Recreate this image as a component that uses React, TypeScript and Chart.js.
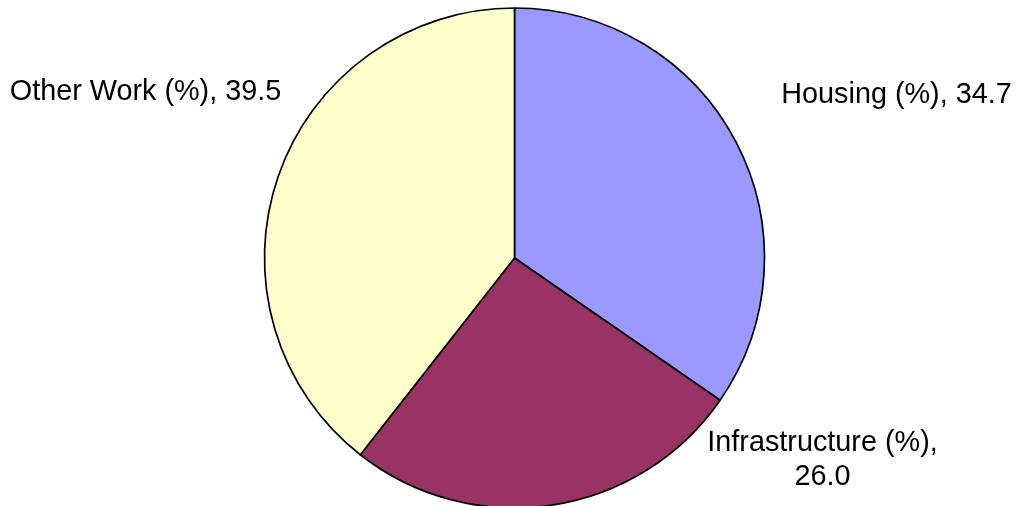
import React, { useEffect, useRef } from "react";
import { Chart, registerables } from "chart.js";

Chart.register(...registerables);

const categories = ["Housing (%)", "Infrastructure (%)", "Other Work (%)"];
const values = [34.7, 26.0, 39.5];
const valueLabels = ["34.7", "26.0", "39.5"];
const colors = ["#9999FF", "#993366", "#FFFFCC"];

// label placement relative to pie center (px offsets), text lines
const labelLines = [
  [`${categories[0]}, ${valueLabels[0]}`],
  [`${categories[1]},`, valueLabels[1]],
  [`${categories[2]}, ${valueLabels[2]}`],
];
const labelOffsetX = [382, 308, -369];
const labelOffsetY = [-155.5, 193, -158];

const labelPlugin = {
  id: "pieLabels",
  afterDatasetsDraw(chart: any) {
    const meta = chart.getDatasetMeta(0);
    const arc = meta.data[0];
    if (!arc) return;
    const cx = arc.x;
    const cy = arc.y;
    const ctx = chart.ctx;
    ctx.save();
    ctx.fillStyle = "#000";
    ctx.font = '28.8px "Liberation Sans", Arial, sans-serif';
    ctx.textAlign = "center";
    ctx.textBaseline = "alphabetic";
    labelLines.forEach((lines, i) => {
      lines.forEach((t, j) => {
        ctx.fillText(t, cx + labelOffsetX[i], cy + labelOffsetY[i] + j * 34);
      });
    });
    ctx.restore();
  },
};

export default function App() {
  const ref = useRef<HTMLCanvasElement>(null);
  useEffect(() => {
    document.body.style.margin = "0";
    const chart = new Chart(ref.current!, {
      type: "pie",
      data: {
        labels: categories,
        datasets: [
          {
            data: values,
            backgroundColor: colors,
            borderColor: "#000",
            borderWidth: 1.7,
            borderAlign: "center",
          } as any,
        ],
      },
      options: {
        animation: false,
        responsive: false,
        radius: 250,
        layout: { padding: { top: 10, bottom: 0, left: 8, right: 0 } },
        plugins: {
          legend: { display: false },
          tooltip: { enabled: false },
        },
      } as any,
      plugins: [labelPlugin],
    });
    return () => chart.destroy();
  }, []);
  return (
    <div style={{ position: "absolute", left: 0, top: 0, width: 1021, height: 506, background: "#fff" }}>
      <canvas ref={ref} width={1021} height={506} style={{ width: 1021, height: 506, display: "block" }} />
    </div>
  );
}
